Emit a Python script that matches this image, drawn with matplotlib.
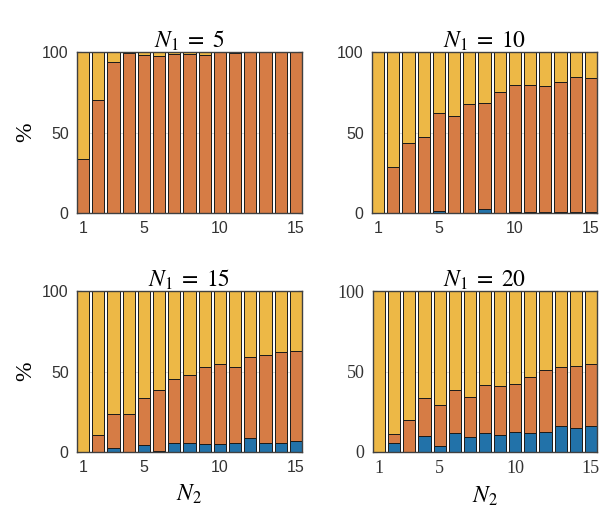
import numpy as np
import matplotlib
matplotlib.use("Agg")
import matplotlib.pyplot as plt

plt.rcParams["mathtext.fontset"] = "stix"

n2 = np.arange(1, 16)
tick_labels = {1: "1", 5: "5", 10: "10", 15: "15"}
n1_values = [5, 10, 15, 20]

# blue (bottom) share and top of orange share, in %
blue = {
    5:  [0, 0, 0, 0, 0, 0, 0, 0, 0, 0, 0, 0, 0, 0, 0],
    10: [0, 0, 0, 0, 1.2, 0, 0.3, 2.7, 0, 0.5, 0.5, 0.7, 0.8, 0.9, 0.5],
    15: [0, 0, 2.5, 0, 4.1, 0.8, 5.4, 5.8, 5.0, 4.8, 5.4, 8.7, 5.8, 5.4, 6.6],
    20: [0, 5.4, 0, 9.8, 3.9, 11.6, 9.1, 12.0, 10.4, 12.7, 11.6, 12.4, 16.4, 14.7, 16.0],
}
orange_top = {
    5:  [33.5, 70.2, 93.7, 99.2, 97.9, 97.5, 98.5, 99.0, 98.3, 100, 99.6, 100, 100, 100, 100],
    10: [0, 28.7, 43.3, 47.5, 62.1, 60.2, 67.5, 68.5, 75.2, 79.4, 79.4, 78.7, 81.2, 84.2, 84.0],
    15: [0, 10.4, 23.4, 23.9, 33.8, 38.8, 45.6, 48.1, 52.5, 54.4, 52.9, 58.7, 60.0, 62.2, 62.7],
    20: [0, 11.4, 19.7, 33.6, 29.5, 38.2, 34.0, 41.9, 40.7, 42.5, 46.5, 50.8, 53.1, 53.3, 54.4],
}

C_BLUE = "#2272a9"
C_ORANGE = "#d67c45"
C_YELLOW = "#edb846"
AX_GRAY = "#404040"

fig = plt.figure(figsize=(6.11, 5.16), dpi=100)
W, H = 611, 516
boxes = [(77, 52, 302, 213), (372, 52, 597, 213),
         (77, 291, 302, 452), (373, 291, 597, 452)]

for i, (n1, (x0, y0, x1, y1)) in enumerate(zip(n1_values, boxes)):
    ax = fig.add_axes([x0 / W, 1 - y1 / H, (x1 - x0) / W, (y1 - y0) / H])
    b = np.array(blue[n1])
    o = np.array(orange_top[n1])
    kw = dict(width=0.8, edgecolor="#1a1a1a", linewidth=0.7, zorder=2)
    ax.bar(n2, b, color=C_BLUE, **kw)
    ax.bar(n2, o - b, bottom=b, color=C_ORANGE, **kw)
    ax.bar(n2, 100 - o, bottom=o, color=C_YELLOW, **kw)

    ax.set_xlim(0.6, 15.4)
    ax.set_ylim(0, 100)
    ax.set_xticks(n2)
    ax.set_xticklabels([tick_labels.get(v, "") for v in n2])
    ax.set_yticks([0, 50, 100])
    ax.yaxis.grid(True, color="#d8d8d8", linewidth=0.6, zorder=0)
    ax.set_axisbelow(True)
    ax.tick_params(direction="in", top=True, right=True, length=3,
                   width=0.8, color=AX_GRAY, labelcolor="#333333", pad=6)
    for sp in ax.spines.values():
        sp.set_color(AX_GRAY)
        sp.set_linewidth(1.0)
        sp.set_zorder(3)

    if i == 3:
        for lab in ax.get_xticklabels() + ax.get_yticklabels():
            lab.set_fontfamily("Liberation Serif")
            lab.set_fontsize(13)
    else:
        for lab in ax.get_xticklabels() + ax.get_yticklabels():
            lab.set_fontfamily("Liberation Sans")
            lab.set_fontsize(11.5)

    ax.set_title(rf"$N_1\;=\;{n1}$", fontsize=17, pad=3)
    if i % 2 == 0:
        ax.set_ylabel("%", fontfamily="Liberation Serif", fontsize=17, labelpad=4)
    if i >= 2:
        ax.set_xlabel(r"$N_2$", fontsize=17, labelpad=5)

fig.savefig("out.png", dpi=100)
